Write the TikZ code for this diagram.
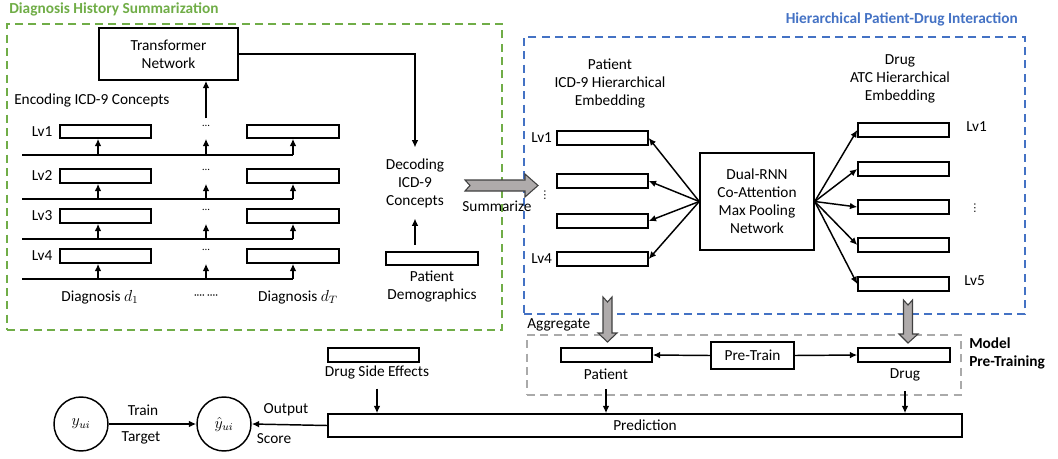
\documentclass[tikz,border=0pt]{standalone}
\usepackage{fontspec}
\setmainfont{Carlito}
\newfontfamily\dejavu{DejaVu Sans}
\usetikzlibrary{arrows.meta,fit}
\definecolor{dgreen}{RGB}{112,173,71}
\definecolor{dblue}{RGB}{68,114,196}
\definecolor{fgray}{RGB}{170,170,170}
\definecolor{agray}{RGB}{175,171,171}
\begin{document}
\begin{tikzpicture}[x=0.75pt,y=-0.75pt,
  font=\fontsize{11.5}{13.5}\selectfont,
  bar/.style={draw, line width=1.1pt, inner sep=0pt},
  tbox/.style={draw, line width=1.1pt, inner sep=0pt, align=center},
  arr/.style={-{Latex[length=5.5pt,width=5pt]}, line width=1.1pt},
  txt/.style={align=center, inner sep=1pt},
  frame/.style={draw, inner sep=0pt, line width=1.3pt, dash pattern=on 6pt off 4pt},
  fatarrow/.style={fill=agray, draw=black!75, line width=0.8pt, line join=miter},
  dotsn/.style={inner sep=0pt, font=\footnotesize},
  vd/.style={inner sep=0pt, font=\dejavu\fontsize{8}{8}\selectfont}]
\useasboundingbox (0,0) rectangle (1058,458);

% frames
\node[frame, draw=dgreen, fit={(7,24)(502,330)}] (gframe) {};
\node[frame, draw=dblue, fit={(524,37)(1025,314)}] (bframe) {};
\node[frame, draw=fgray, line width=1.1pt, fit={(527,335)(961,395)}] (mframe) {};
\node[anchor=west, inner sep=0pt, text=dgreen, font=\fontsize{11.5}{13.5}\selectfont\bfseries] (gtitle) at (9,9) {Diagnosis History Summarization};
\node[anchor=east, inner sep=0pt, text=dblue, font=\fontsize{11.5}{13.5}\selectfont\bfseries] (btitle) at (1018,19) {Hierarchical Patient-Drug Interaction};

% left part
\node[tbox, minimum width=104.25pt, minimum height=39pt] (tf) at (168.5,54) {Transformer\\Network};
\node[anchor=west, inner sep=0pt] (enc) at (14,100) {Encoding ICD-9 Concepts};

\foreach \i/\t/\b/\l in {1/125/138/155, 2/169/183/199, 3/209/223/239, 4/249/263/279}{
  \node[bar, fit={(60,\t)(151,\b)}] (L\i) {};
  \node[bar, fit={(247,\t)(339,\b)}] (R\i) {};
  \node[anchor=east, inner sep=0pt] (lv\i) at ([xshift=-5pt]L\i.west) {Lv\i};
  \coordinate (ln\i) at (22,\l);
  \coordinate (La\i) at ([xshift=-5.6pt]L\i.south);
  \node[dotsn] (m\i) at (206,{\t+1}) {\ldots};
  \draw[line width=1.1pt] (ln\i) -- (R\i.south |- ln\i);
  \draw[arr] (La\i |- ln\i) -- (La\i);
  \draw[arr] (m\i |- ln\i) -- (m\i |- R\i.south);
  \draw[arr] (R\i.south |- ln\i) -- (R\i.south);
}
\coordinate (m1top) at ([yshift=5pt]m1.north);
\draw[arr] (m1top) -- (m1top |- tf.south);

\node (dg1) at (100,297) {Diagnosis $d_1$};
\node[inner sep=0pt] (dgm) at (206,297) {\footnotesize ····\ ····};
\node (dgT) at (298,297) {Diagnosis $d_T$};

\node[txt, inner ysep=8pt] (dec) at (415,183) {Decoding\\ICD-9\\Concepts};
\node[bar, fit={(386,252)(478,265)}] (pd) {};
\node[txt] (pdl) at (432,287) {Patient\\Demographics};
\draw[arr] (tf.east) -| (dec.north);
\coordinate (pdup) at ([yshift=5pt]pd.north -| dec.south);
\draw[arr] (pdup) -- (dec.south);

% summarize arrow
\draw[fatarrow] (465,180) -- (525,180) -- (525,174) -- (538,185.5) -- (525,197) -- (525,191) -- (465,191) -- (470,185.5) -- cycle;
\node (sum) at (497,206) {Summarize};

% patient embedding
\node[txt] (ph) at (610,84) {Patient\\ICD-9 Hierarchical\\Embedding};
\node[bar, fit={(557,131)(648,145)}] (pb1) {};
\node[bar, fit={(557,174)(648,188)}] (pb2) {};
\node[bar, fit={(557,214)(648,228)}] (pb3) {};
\node[bar, fit={(557,252)(648,266)}] (pb4) {};
\node[anchor=east, inner sep=0pt] (plv1) at ([xshift=-3pt]pb1.west) {Lv1};
\node[anchor=east, inner sep=0pt] (plv4) at ([xshift=-3pt]pb4.west) {Lv4};
\node[vd] (pvd) at (545,195) {⋮};

\node[tbox, minimum width=85.5pt, minimum height=72.75pt] (dual) at (757,201.5) {Dual-RNN\\Co-Attention\\Max Pooling\\Network};
\foreach \i in {1,...,4}{ \draw[arr] (dual.west) -- (pb\i.east); }

% drug embedding
\node[txt] (dh) at (900,79) {Drug\\ATC Hierarchical\\Embedding};
\foreach \i/\t in {1/123, 2/162, 3/200, 4/238, 5/277}{
  \node[bar, fit={(858,\t)({949},{\t+14})}] (db\i) {};
  \draw[arr] (dual.east) -- (db\i.west);
}
\node[anchor=west, inner sep=0pt] (dlv1) at (966,127) {Lv1};
\node[anchor=west, inner sep=0pt] (dlv5) at (964,281) {Lv5};
\node[vd] (dvd) at (975,208) {⋮};

% gray down arrows
\draw[fatarrow] (603,297) -- (607.5,302) -- (612,297) -- (612,333) -- (617,333) -- (607.5,342) -- (598,333) -- (603,333) -- cycle;
\draw[fatarrow] (903.5,300) -- (908,305) -- (912.5,300) -- (912.5,334) -- (918,334) -- (908,343) -- (899,334) -- (903.5,334) -- cycle;
\node[anchor=west, inner sep=0pt] (agg) at (527,325) {Aggregate};

% model pre-training
\node[bar, fit={(561,348)(652,362)}] (mpat) {};
\node[tbox, minimum width=62.25pt, minimum height=20.25pt] (pt) at (752.5,355.5) {Pre-Train};
\node[bar, fit={(858,348)(950,362)}] (mdrug) {};
\draw[arr] (pt.west) -- (mpat.east);
\draw[arr] (pt.east) -- (mdrug.west);
\node (pl) at (606,374) {Patient};
\node (dl) at (905,375) {Drug};
\node[anchor=west, align=left, inner sep=0pt, font=\fontsize{11.5}{13.5}\selectfont\bfseries] (mpt) at (969,353) {Model\\Pre-Training};

% prediction
\node[bar, fit={(328,348)(419,362)}] (dse) {};
\node (dsl) at (377,372) {Drug Side Effects};
\node[tbox, minimum width=475.5pt, minimum height=17.25pt] (pred) at (645,425.5) {Prediction};
\draw[arr, shorten <=4pt] (dsl.south) -- (dsl.south |- pred.north);
\draw[arr, shorten <=4pt] (pl.south) -- (pl.south |- pred.north);
\draw[arr, shorten <=4pt] (dl.south) -- (dl.south |- pred.north);

\node[circle, draw, line width=1.1pt, minimum size=40.5pt, inner sep=0pt] (yui) at (81,424) {$y_{ui}$};
\node[circle, draw, line width=1.1pt, minimum size=40.5pt, inner sep=0pt] (yhat) at (224,424) {$\hat{y}_{ui}$};
\draw[arr] (yui) -- (yhat);
\draw[arr] (pred.west) -- (yhat.east);
\node (trn) at (143,410) {Train};
\node (tgt) at (141,438) {Target};
\node (out) at (286,410) {Output};
\node (scr) at (274,439) {Score};
\end{tikzpicture}
\end{document}
